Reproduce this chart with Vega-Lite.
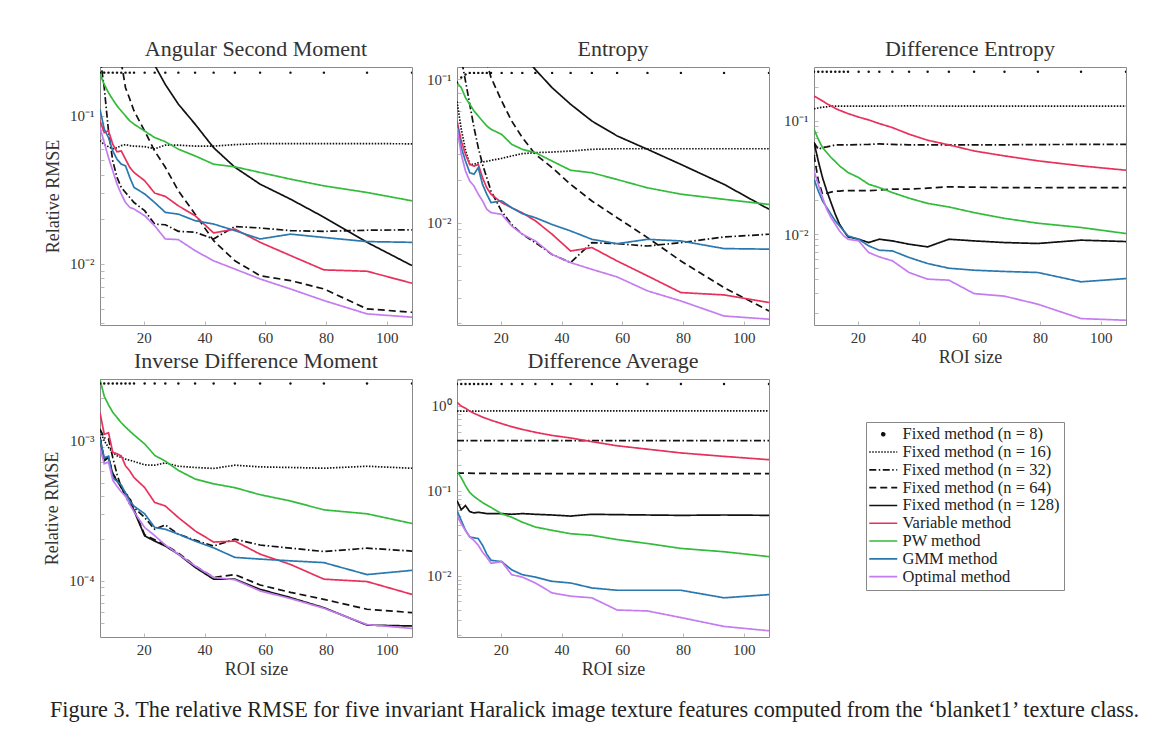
{
"$schema": "https://vega.github.io/schema/vega-lite/v6.json",
"background": "white",
"padding": {"left": 43, "top": 37, "right": 10, "bottom": 10},
"columns": 3,
"bounds": "flush",
"spacing": {"row": 54, "column": 45},
"title": {"text": "Figure 3.  The relative RMSE for five invariant Haralick image texture features computed from the ‘blanket1’ texture class.", "orient": "bottom", "anchor": "start", "frame": "group", "dx": -50, "offset": 20, "font": "Liberation Serif", "fontSize": 22.2, "fontWeight": "normal", "color": "#222"},
"datasets": {
"asm": [
{"m":"f8","x":5.6,"y":0.196},{"m":"f8","x":7,"y":0.196},{"m":"f8","x":8.4,"y":0.196},{"m":"f8","x":9.8,"y":0.196},{"m":"f8","x":11.2,"y":0.196},{"m":"f8","x":12.6,"y":0.196},{"m":"f8","x":14,"y":0.196},{"m":"f8","x":15.4,"y":0.196},{"m":"f8","x":16.8,"y":0.196},{"m":"f8","x":20.3,"y":0.196},{"m":"f8","x":23.6,"y":0.196},{"m":"f8","x":27.1,"y":0.196},{"m":"f8","x":31.4,"y":0.196},{"m":"f8","x":36.9,"y":0.196},{"m":"f8","x":43,"y":0.196},{"m":"f8","x":50,"y":0.196},{"m":"f8","x":58.3,"y":0.196},{"m":"f8","x":68.3,"y":0.196},{"m":"f8","x":79.3,"y":0.196},{"m":"f8","x":93.5,"y":0.196},{"m":"f8","x":108.3,"y":0.196},
{"m":"f16","x":5.6,"y":0.068},{"m":"f16","x":7,"y":0.064},{"m":"f16","x":8.4,"y":0.062},{"m":"f16","x":9.8,"y":0.06},{"m":"f16","x":11.2,"y":0.061},{"m":"f16","x":12.6,"y":0.063},{"m":"f16","x":14,"y":0.064},{"m":"f16","x":15.4,"y":0.063},{"m":"f16","x":16.8,"y":0.0625},{"m":"f16","x":20.3,"y":0.062},{"m":"f16","x":23.6,"y":0.06},{"m":"f16","x":27.1,"y":0.0635},{"m":"f16","x":31.4,"y":0.0635},{"m":"f16","x":36.9,"y":0.0625},{"m":"f16","x":43,"y":0.0625},{"m":"f16","x":50,"y":0.064},{"m":"f16","x":58.3,"y":0.065},{"m":"f16","x":68.3,"y":0.065},{"m":"f16","x":79.3,"y":0.065},{"m":"f16","x":93.5,"y":0.065},{"m":"f16","x":108.3,"y":0.0648},
{"m":"f32","x":5.6,"y":0.25},{"m":"f32","x":7,"y":0.155},{"m":"f32","x":8.4,"y":0.079},{"m":"f32","x":9.8,"y":0.0498},{"m":"f32","x":11.2,"y":0.0384},{"m":"f32","x":12.6,"y":0.0329},{"m":"f32","x":14,"y":0.0304},{"m":"f32","x":15.4,"y":0.0281},{"m":"f32","x":16.8,"y":0.026},{"m":"f32","x":20.3,"y":0.0229},{"m":"f32","x":23.6,"y":0.0186},{"m":"f32","x":27.1,"y":0.0184},{"m":"f32","x":31.4,"y":0.0166},{"m":"f32","x":36.9,"y":0.0164},{"m":"f32","x":43,"y":0.01475},{"m":"f32","x":50,"y":0.0179},{"m":"f32","x":58.3,"y":0.0175},{"m":"f32","x":68.3,"y":0.0168},{"m":"f32","x":79.3,"y":0.0166},{"m":"f32","x":93.5,"y":0.0169},{"m":"f32","x":108.3,"y":0.017},
{"m":"f64","x":12.6,"y":0.23},{"m":"f64","x":14,"y":0.155},{"m":"f64","x":15.4,"y":0.13},{"m":"f64","x":16.8,"y":0.108},{"m":"f64","x":20.3,"y":0.079},{"m":"f64","x":23.6,"y":0.058},{"m":"f64","x":27.1,"y":0.045},{"m":"f64","x":31.4,"y":0.0312},{"m":"f64","x":36.9,"y":0.0217},{"m":"f64","x":43,"y":0.01436},{"m":"f64","x":50,"y":0.0105},{"m":"f64","x":58.3,"y":0.00833},{"m":"f64","x":68.3,"y":0.00772},{"m":"f64","x":79.3,"y":0.00678},{"m":"f64","x":93.5,"y":0.00497},{"m":"f64","x":108.3,"y":0.00472},
{"m":"f128","x":20.3,"y":0.3},{"m":"f128","x":23.6,"y":0.22},{"m":"f128","x":27.1,"y":0.163},{"m":"f128","x":31.4,"y":0.12},{"m":"f128","x":36.9,"y":0.088},{"m":"f128","x":43,"y":0.061},{"m":"f128","x":50,"y":0.045},{"m":"f128","x":58.3,"y":0.0346},{"m":"f128","x":68.3,"y":0.0274},{"m":"f128","x":79.3,"y":0.0207},{"m":"f128","x":93.5,"y":0.014},{"m":"f128","x":108.3,"y":0.00975},
{"m":"var","x":5.6,"y":0.0926},{"m":"var","x":7,"y":0.0772},{"m":"var","x":8.4,"y":0.0793},{"m":"var","x":9.8,"y":0.0644},{"m":"var","x":11.2,"y":0.0572},{"m":"var","x":12.6,"y":0.058},{"m":"var","x":14,"y":0.051},{"m":"var","x":15.4,"y":0.0449},{"m":"var","x":16.8,"y":0.0415},{"m":"var","x":20.3,"y":0.0365},{"m":"var","x":23.6,"y":0.0301},{"m":"var","x":27.1,"y":0.0286},{"m":"var","x":31.4,"y":0.0247},{"m":"var","x":36.9,"y":0.0212},{"m":"var","x":43,"y":0.0162},{"m":"var","x":50,"y":0.0172},{"m":"var","x":58.3,"y":0.014},{"m":"var","x":68.3,"y":0.0114},{"m":"var","x":79.3,"y":0.00912},{"m":"var","x":93.5,"y":0.00893},{"m":"var","x":108.3,"y":0.00741},
{"m":"pw","x":5.6,"y":0.191},{"m":"pw","x":7,"y":0.163},{"m":"pw","x":8.4,"y":0.1435},{"m":"pw","x":9.8,"y":0.129},{"m":"pw","x":11.2,"y":0.117},{"m":"pw","x":12.6,"y":0.108},{"m":"pw","x":14,"y":0.1},{"m":"pw","x":15.4,"y":0.0926},{"m":"pw","x":16.8,"y":0.088},{"m":"pw","x":20.3,"y":0.079},{"m":"pw","x":23.6,"y":0.0714},{"m":"pw","x":27.1,"y":0.067},{"m":"pw","x":31.4,"y":0.0596},{"m":"pw","x":36.9,"y":0.0537},{"m":"pw","x":43,"y":0.0472},{"m":"pw","x":50,"y":0.0453},{"m":"pw","x":58.3,"y":0.0415},{"m":"pw","x":68.3,"y":0.0374},{"m":"pw","x":79.3,"y":0.0337},{"m":"pw","x":93.5,"y":0.0304},{"m":"pw","x":108.3,"y":0.0267},
{"m":"gmm","x":5.6,"y":0.111},{"m":"gmm","x":7,"y":0.0813},{"m":"gmm","x":8.4,"y":0.0714},{"m":"gmm","x":9.8,"y":0.058},{"m":"gmm","x":11.2,"y":0.051},{"m":"gmm","x":12.6,"y":0.0472},{"m":"gmm","x":14,"y":0.046},{"m":"gmm","x":15.4,"y":0.0384},{"m":"gmm","x":16.8,"y":0.0329},{"m":"gmm","x":20.3,"y":0.0297},{"m":"gmm","x":23.6,"y":0.026},{"m":"gmm","x":27.1,"y":0.0223},{"m":"gmm","x":31.4,"y":0.0217},{"m":"gmm","x":36.9,"y":0.0196},{"m":"gmm","x":43,"y":0.0186},{"m":"gmm","x":50,"y":0.0168},{"m":"gmm","x":58.3,"y":0.01475},{"m":"gmm","x":68.3,"y":0.0159},{"m":"gmm","x":79.3,"y":0.0151},{"m":"gmm","x":93.5,"y":0.01416},{"m":"gmm","x":108.3,"y":0.014},
{"m":"opt","x":5.6,"y":0.0834},{"m":"opt","x":7,"y":0.066},{"m":"opt","x":8.4,"y":0.0523},{"m":"opt","x":9.8,"y":0.0426},{"m":"opt","x":11.2,"y":0.0346},{"m":"opt","x":12.6,"y":0.0297},{"m":"opt","x":14,"y":0.026},{"m":"opt","x":15.4,"y":0.0241},{"m":"opt","x":16.8,"y":0.0235},{"m":"opt","x":20.3,"y":0.0212},{"m":"opt","x":23.6,"y":0.0181},{"m":"opt","x":27.1,"y":0.01475},{"m":"opt","x":31.4,"y":0.0146},{"m":"opt","x":36.9,"y":0.0123},{"m":"opt","x":43,"y":0.0105},{"m":"opt","x":50,"y":0.00924},{"m":"opt","x":58.3,"y":0.00792},{"m":"opt","x":68.3,"y":0.00678},{"m":"opt","x":79.3,"y":0.00566},{"m":"opt","x":93.5,"y":0.0046},{"m":"opt","x":108.3,"y":0.00437}
],
"ent": [
{"m":"f8","x":5.6,"y":0.095},{"m":"f8","x":7,"y":0.103},{"m":"f8","x":8.4,"y":0.108},{"m":"f8","x":9.8,"y":0.111},{"m":"f8","x":11.2,"y":0.111},{"m":"f8","x":12.6,"y":0.111},{"m":"f8","x":14,"y":0.111},{"m":"f8","x":15.4,"y":0.111},{"m":"f8","x":16.8,"y":0.111},{"m":"f8","x":20.3,"y":0.111},{"m":"f8","x":23.6,"y":0.111},{"m":"f8","x":27.1,"y":0.111},{"m":"f8","x":31.4,"y":0.111},{"m":"f8","x":36.9,"y":0.111},{"m":"f8","x":43,"y":0.111},{"m":"f8","x":50,"y":0.111},{"m":"f8","x":58.3,"y":0.111},{"m":"f8","x":68.3,"y":0.111},{"m":"f8","x":79.3,"y":0.111},{"m":"f8","x":93.5,"y":0.111},{"m":"f8","x":108.3,"y":0.111},
{"m":"f16","x":5.6,"y":0.07},{"m":"f16","x":7,"y":0.045},{"m":"f16","x":8.4,"y":0.032},{"m":"f16","x":9.8,"y":0.0255},{"m":"f16","x":11.2,"y":0.0255},{"m":"f16","x":12.6,"y":0.0262},{"m":"f16","x":14,"y":0.0265},{"m":"f16","x":15.4,"y":0.0268},{"m":"f16","x":16.8,"y":0.0272},{"m":"f16","x":20.3,"y":0.0281},{"m":"f16","x":23.6,"y":0.0292},{"m":"f16","x":27.1,"y":0.0303},{"m":"f16","x":31.4,"y":0.0308},{"m":"f16","x":36.9,"y":0.0311},{"m":"f16","x":43,"y":0.0316},{"m":"f16","x":50,"y":0.0325},{"m":"f16","x":58.3,"y":0.0328},{"m":"f16","x":68.3,"y":0.0328},{"m":"f16","x":79.3,"y":0.0328},{"m":"f16","x":93.5,"y":0.0328},{"m":"f16","x":108.3,"y":0.0328},
{"m":"f32","x":5.6,"y":0.25},{"m":"f32","x":7,"y":0.14},{"m":"f32","x":8.4,"y":0.0973},{"m":"f32","x":9.8,"y":0.067},{"m":"f32","x":11.2,"y":0.046},{"m":"f32","x":12.6,"y":0.0334},{"m":"f32","x":14,"y":0.0255},{"m":"f32","x":15.4,"y":0.0206},{"m":"f32","x":16.8,"y":0.0166},{"m":"f32","x":20.3,"y":0.012},{"m":"f32","x":23.6,"y":0.0097},{"m":"f32","x":27.1,"y":0.0083},{"m":"f32","x":31.4,"y":0.00725},{"m":"f32","x":36.9,"y":0.006},{"m":"f32","x":43,"y":0.00526},{"m":"f32","x":50,"y":0.00725},{"m":"f32","x":58.3,"y":0.00713},{"m":"f32","x":68.3,"y":0.00687},{"m":"f32","x":79.3,"y":0.00725},{"m":"f32","x":93.5,"y":0.00794},{"m":"f32","x":108.3,"y":0.0083},
{"m":"f64","x":14,"y":0.16},{"m":"f64","x":15.4,"y":0.13},{"m":"f64","x":16.8,"y":0.103},{"m":"f64","x":20.3,"y":0.0706},{"m":"f64","x":23.6,"y":0.0512},{"m":"f64","x":27.1,"y":0.0392},{"m":"f64","x":31.4,"y":0.03},{"m":"f64","x":36.9,"y":0.0242},{"m":"f64","x":43,"y":0.0185},{"m":"f64","x":50,"y":0.01416},{"m":"f64","x":58.3,"y":0.01083},{"m":"f64","x":68.3,"y":0.00786},{"m":"f64","x":79.3,"y":0.0054},{"m":"f64","x":93.5,"y":0.00352},{"m":"f64","x":108.3,"y":0.00242},
{"m":"f128","x":27.1,"y":0.15},{"m":"f128","x":31.4,"y":0.117},{"m":"f128","x":36.9,"y":0.0875},{"m":"f128","x":43,"y":0.067},{"m":"f128","x":50,"y":0.0512},{"m":"f128","x":58.3,"y":0.0403},{"m":"f128","x":68.3,"y":0.0325},{"m":"f128","x":79.3,"y":0.0255},{"m":"f128","x":93.5,"y":0.0185},{"m":"f128","x":108.3,"y":0.0124},
{"m":"var","x":5.6,"y":0.0512},{"m":"var","x":7,"y":0.0371},{"m":"var","x":8.4,"y":0.03},{"m":"var","x":9.8,"y":0.0255},{"m":"var","x":11.2,"y":0.0248},{"m":"var","x":12.6,"y":0.0255},{"m":"var","x":14,"y":0.0206},{"m":"var","x":15.4,"y":0.0175},{"m":"var","x":16.8,"y":0.0158},{"m":"var","x":20.3,"y":0.0138},{"m":"var","x":23.6,"y":0.0127},{"m":"var","x":27.1,"y":0.0117},{"m":"var","x":31.4,"y":0.0103},{"m":"var","x":36.9,"y":0.0083},{"m":"var","x":43,"y":0.00634},{"m":"var","x":50,"y":0.0067},{"m":"var","x":58.3,"y":0.0054},{"m":"var","x":68.3,"y":0.00425},{"m":"var","x":79.3,"y":0.00325},{"m":"var","x":93.5,"y":0.00313},{"m":"var","x":108.3,"y":0.00277},
{"m":"pw","x":5.6,"y":0.0948},{"m":"pw","x":7,"y":0.0875},{"m":"pw","x":8.4,"y":0.0745},{"m":"pw","x":9.8,"y":0.067},{"m":"pw","x":11.2,"y":0.0602},{"m":"pw","x":12.6,"y":0.0555},{"m":"pw","x":14,"y":0.0512},{"m":"pw","x":15.4,"y":0.0473},{"m":"pw","x":16.8,"y":0.0448},{"m":"pw","x":20.3,"y":0.0413},{"m":"pw","x":23.6,"y":0.0352},{"m":"pw","x":27.1,"y":0.0325},{"m":"pw","x":31.4,"y":0.0308},{"m":"pw","x":36.9,"y":0.0269},{"m":"pw","x":43,"y":0.0232},{"m":"pw","x":50,"y":0.0223},{"m":"pw","x":58.3,"y":0.02},{"m":"pw","x":68.3,"y":0.0175},{"m":"pw","x":79.3,"y":0.0158},{"m":"pw","x":93.5,"y":0.01455},{"m":"pw","x":108.3,"y":0.0134},
{"m":"gmm","x":5.6,"y":0.0485},{"m":"gmm","x":7,"y":0.0334},{"m":"gmm","x":8.4,"y":0.0269},{"m":"gmm","x":9.8,"y":0.0223},{"m":"gmm","x":11.2,"y":0.0218},{"m":"gmm","x":12.6,"y":0.0242},{"m":"gmm","x":14,"y":0.0185},{"m":"gmm","x":15.4,"y":0.0158},{"m":"gmm","x":16.8,"y":0.0138},{"m":"gmm","x":20.3,"y":0.0142},{"m":"gmm","x":23.6,"y":0.0127},{"m":"gmm","x":27.1,"y":0.01155},{"m":"gmm","x":31.4,"y":0.01083},{"m":"gmm","x":36.9,"y":0.0097},{"m":"gmm","x":43,"y":0.00875},{"m":"gmm","x":50,"y":0.00765},{"m":"gmm","x":58.3,"y":0.00713},{"m":"gmm","x":68.3,"y":0.00765},{"m":"gmm","x":79.3,"y":0.00745},{"m":"gmm","x":93.5,"y":0.00659},{"m":"gmm","x":108.3,"y":0.00653},
{"m":"opt","x":5.6,"y":0.046},{"m":"opt","x":7,"y":0.03},{"m":"opt","x":8.4,"y":0.0229},{"m":"opt","x":9.8,"y":0.0195},{"m":"opt","x":11.2,"y":0.018},{"m":"opt","x":12.6,"y":0.0158},{"m":"opt","x":14,"y":0.0142},{"m":"opt","x":15.4,"y":0.0124},{"m":"opt","x":16.8,"y":0.01175},{"m":"opt","x":20.3,"y":0.01143},{"m":"opt","x":23.6,"y":0.00948},{"m":"opt","x":27.1,"y":0.0083},{"m":"opt","x":31.4,"y":0.00745},{"m":"opt","x":36.9,"y":0.006},{"m":"opt","x":43,"y":0.00526},{"m":"opt","x":50,"y":0.00472},{"m":"opt","x":58.3,"y":0.00418},{"m":"opt","x":68.3,"y":0.00334},{"m":"opt","x":79.3,"y":0.00284},{"m":"opt","x":93.5,"y":0.00223},{"m":"opt","x":108.3,"y":0.00212}
],
"den": [
{"m":"f8","x":5.6,"y":0.272},{"m":"f8","x":7,"y":0.272},{"m":"f8","x":8.4,"y":0.272},{"m":"f8","x":9.8,"y":0.272},{"m":"f8","x":11.2,"y":0.272},{"m":"f8","x":12.6,"y":0.272},{"m":"f8","x":14,"y":0.272},{"m":"f8","x":15.4,"y":0.272},{"m":"f8","x":16.8,"y":0.272},{"m":"f8","x":20.3,"y":0.272},{"m":"f8","x":23.6,"y":0.272},{"m":"f8","x":27.1,"y":0.272},{"m":"f8","x":31.4,"y":0.272},{"m":"f8","x":36.9,"y":0.272},{"m":"f8","x":43,"y":0.272},{"m":"f8","x":50,"y":0.272},{"m":"f8","x":58.3,"y":0.272},{"m":"f8","x":68.3,"y":0.272},{"m":"f8","x":79.3,"y":0.272},{"m":"f8","x":93.5,"y":0.272},{"m":"f8","x":108.3,"y":0.272},
{"m":"f16","x":5.6,"y":0.128},{"m":"f16","x":7,"y":0.13},{"m":"f16","x":8.4,"y":0.132},{"m":"f16","x":9.8,"y":0.133},{"m":"f16","x":11.2,"y":0.135},{"m":"f16","x":20.3,"y":0.135},{"m":"f16","x":36.9,"y":0.1355},{"m":"f16","x":58.3,"y":0.135},{"m":"f16","x":79.3,"y":0.135},{"m":"f16","x":108.3,"y":0.135},
{"m":"f32","x":5.6,"y":0.0644},{"m":"f32","x":7,"y":0.0562},{"m":"f32","x":8.4,"y":0.0582},{"m":"f32","x":9.8,"y":0.0589},{"m":"f32","x":11.2,"y":0.06},{"m":"f32","x":12.6,"y":0.0614},{"m":"f32","x":14,"y":0.0614},{"m":"f32","x":15.4,"y":0.0614},{"m":"f32","x":16.8,"y":0.0614},{"m":"f32","x":20.3,"y":0.0618},{"m":"f32","x":23.6,"y":0.062},{"m":"f32","x":27.1,"y":0.0627},{"m":"f32","x":31.4,"y":0.062},{"m":"f32","x":36.9,"y":0.0615},{"m":"f32","x":43,"y":0.0615},{"m":"f32","x":50,"y":0.0615},{"m":"f32","x":58.3,"y":0.0615},{"m":"f32","x":68.3,"y":0.0615},{"m":"f32","x":79.3,"y":0.0618},{"m":"f32","x":93.5,"y":0.062},{"m":"f32","x":108.3,"y":0.062},
{"m":"f64","x":5.6,"y":0.05},{"m":"f64","x":7,"y":0.03},{"m":"f64","x":8.4,"y":0.0225},{"m":"f64","x":9.8,"y":0.023},{"m":"f64","x":11.2,"y":0.0235},{"m":"f64","x":12.6,"y":0.024},{"m":"f64","x":14,"y":0.024},{"m":"f64","x":15.4,"y":0.0242},{"m":"f64","x":16.8,"y":0.0242},{"m":"f64","x":20.3,"y":0.0242},{"m":"f64","x":23.6,"y":0.0242},{"m":"f64","x":27.1,"y":0.0245},{"m":"f64","x":31.4,"y":0.025},{"m":"f64","x":36.9,"y":0.025},{"m":"f64","x":43,"y":0.0255},{"m":"f64","x":50,"y":0.0262},{"m":"f64","x":58.3,"y":0.026},{"m":"f64","x":68.3,"y":0.0258},{"m":"f64","x":79.3,"y":0.0257},{"m":"f64","x":93.5,"y":0.0258},{"m":"f64","x":108.3,"y":0.0258},
{"m":"f128","x":5.6,"y":0.0644},{"m":"f128","x":7,"y":0.0444},{"m":"f128","x":8.4,"y":0.0316},{"m":"f128","x":9.8,"y":0.0241},{"m":"f128","x":11.2,"y":0.019},{"m":"f128","x":12.6,"y":0.015},{"m":"f128","x":14,"y":0.01226},{"m":"f128","x":15.4,"y":0.0107},{"m":"f128","x":16.8,"y":0.00947},{"m":"f128","x":20.3,"y":0.00903},{"m":"f128","x":23.6,"y":0.00844},{"m":"f128","x":27.1,"y":0.00903},{"m":"f128","x":31.4,"y":0.00873},{"m":"f128","x":36.9,"y":0.00816},{"m":"f128","x":43,"y":0.00773},{"m":"f128","x":50,"y":0.00903},{"m":"f128","x":58.3,"y":0.00873},{"m":"f128","x":68.3,"y":0.00844},{"m":"f128","x":79.3,"y":0.00828},{"m":"f128","x":93.5,"y":0.00886},{"m":"f128","x":108.3,"y":0.00861},
{"m":"var","x":5.6,"y":0.166},{"m":"var","x":7,"y":0.158},{"m":"var","x":8.4,"y":0.15},{"m":"var","x":9.8,"y":0.142},{"m":"var","x":11.2,"y":0.1355},{"m":"var","x":12.6,"y":0.129},{"m":"var","x":14,"y":0.124},{"m":"var","x":15.4,"y":0.12},{"m":"var","x":16.8,"y":0.116},{"m":"var","x":20.3,"y":0.108},{"m":"var","x":23.6,"y":0.102},{"m":"var","x":27.1,"y":0.0947},{"m":"var","x":31.4,"y":0.0873},{"m":"var","x":36.9,"y":0.0763},{"m":"var","x":43,"y":0.0675},{"m":"var","x":50,"y":0.0614},{"m":"var","x":58.3,"y":0.0543},{"m":"var","x":68.3,"y":0.0491},{"m":"var","x":79.3,"y":0.0444},{"m":"var","x":93.5,"y":0.0401},{"m":"var","x":108.3,"y":0.0367},
{"m":"pw","x":5.6,"y":0.0844},{"m":"pw","x":7,"y":0.069},{"m":"pw","x":8.4,"y":0.0582},{"m":"pw","x":9.8,"y":0.0526},{"m":"pw","x":11.2,"y":0.0475},{"m":"pw","x":12.6,"y":0.0438},{"m":"pw","x":14,"y":0.0401},{"m":"pw","x":15.4,"y":0.0375},{"m":"pw","x":16.8,"y":0.035},{"m":"pw","x":20.3,"y":0.0316},{"m":"pw","x":23.6,"y":0.0276},{"m":"pw","x":27.1,"y":0.0258},{"m":"pw","x":31.4,"y":0.0233},{"m":"pw","x":36.9,"y":0.0208},{"m":"pw","x":43,"y":0.0187},{"m":"pw","x":50,"y":0.0174},{"m":"pw","x":58.3,"y":0.0155},{"m":"pw","x":68.3,"y":0.0138},{"m":"pw","x":79.3,"y":0.0125},{"m":"pw","x":93.5,"y":0.01146},{"m":"pw","x":108.3,"y":0.01014},
{"m":"gmm","x":5.6,"y":0.0306},{"m":"gmm","x":7,"y":0.0241},{"m":"gmm","x":8.4,"y":0.0197},{"m":"gmm","x":9.8,"y":0.0172},{"m":"gmm","x":11.2,"y":0.015},{"m":"gmm","x":12.6,"y":0.0131},{"m":"gmm","x":14,"y":0.01185},{"m":"gmm","x":15.4,"y":0.0107},{"m":"gmm","x":16.8,"y":0.00966},{"m":"gmm","x":20.3,"y":0.00903},{"m":"gmm","x":23.6,"y":0.00789},{"m":"gmm","x":27.1,"y":0.00722},{"m":"gmm","x":31.4,"y":0.00712},{"m":"gmm","x":36.9,"y":0.00623},{"m":"gmm","x":43,"y":0.00551},{"m":"gmm","x":50,"y":0.00501},{"m":"gmm","x":58.3,"y":0.00481},{"m":"gmm","x":68.3,"y":0.00469},{"m":"gmm","x":79.3,"y":0.00459},{"m":"gmm","x":93.5,"y":0.0038},{"m":"gmm","x":108.3,"y":0.00406},
{"m":"opt","x":5.6,"y":0.0362},{"m":"opt","x":7,"y":0.0276},{"m":"opt","x":8.4,"y":0.0211},{"m":"opt","x":9.8,"y":0.0166},{"m":"opt","x":11.2,"y":0.014},{"m":"opt","x":12.6,"y":0.01226},{"m":"opt","x":14,"y":0.0107},{"m":"opt","x":15.4,"y":0.00966},{"m":"opt","x":16.8,"y":0.00903},{"m":"opt","x":20.3,"y":0.00873},{"m":"opt","x":23.6,"y":0.00689},{"m":"opt","x":27.1,"y":0.00631},{"m":"opt","x":31.4,"y":0.00582},{"m":"opt","x":36.9,"y":0.00459},{"m":"opt","x":43,"y":0.00401},{"m":"opt","x":50,"y":0.00393},{"m":"opt","x":58.3,"y":0.00299},{"m":"opt","x":68.3,"y":0.00284},{"m":"opt","x":79.3,"y":0.00241},{"m":"opt","x":93.5,"y":0.0018},{"m":"opt","x":108.3,"y":0.00174}
],
"idm": [
{"m":"f8","x":5.6,"y":0.00253},{"m":"f8","x":7,"y":0.00253},{"m":"f8","x":8.4,"y":0.00253},{"m":"f8","x":9.8,"y":0.00253},{"m":"f8","x":11.2,"y":0.00253},{"m":"f8","x":12.6,"y":0.00253},{"m":"f8","x":14,"y":0.00253},{"m":"f8","x":15.4,"y":0.00253},{"m":"f8","x":16.8,"y":0.00253},{"m":"f8","x":20.3,"y":0.00253},{"m":"f8","x":23.6,"y":0.00253},{"m":"f8","x":27.1,"y":0.00253},{"m":"f8","x":31.4,"y":0.00253},{"m":"f8","x":36.9,"y":0.00253},{"m":"f8","x":43,"y":0.00253},{"m":"f8","x":50,"y":0.00253},{"m":"f8","x":58.3,"y":0.00253},{"m":"f8","x":68.3,"y":0.00253},{"m":"f8","x":79.3,"y":0.00253},{"m":"f8","x":93.5,"y":0.00253},{"m":"f8","x":108.3,"y":0.00253},
{"m":"f16","x":5.6,"y":0.00116},{"m":"f16","x":7,"y":0.00099},{"m":"f16","x":8.4,"y":0.000887},{"m":"f16","x":9.8,"y":0.000817},{"m":"f16","x":11.2,"y":0.000774},{"m":"f16","x":12.6,"y":0.000753},{"m":"f16","x":14,"y":0.000733},{"m":"f16","x":15.4,"y":0.000721},{"m":"f16","x":16.8,"y":0.000706},{"m":"f16","x":20.3,"y":0.000668},{"m":"f16","x":23.6,"y":0.000664},{"m":"f16","x":27.1,"y":0.00069},{"m":"f16","x":31.4,"y":0.000653},{"m":"f16","x":36.9,"y":0.00064},{"m":"f16","x":43,"y":0.00063},{"m":"f16","x":50,"y":0.000664},{"m":"f16","x":58.3,"y":0.000646},{"m":"f16","x":68.3,"y":0.00064},{"m":"f16","x":79.3,"y":0.000632},{"m":"f16","x":93.5,"y":0.000653},{"m":"f16","x":108.3,"y":0.000632},
{"m":"f32","x":5.6,"y":0.0012},{"m":"f32","x":7,"y":0.00104},{"m":"f32","x":8.4,"y":0.00102},{"m":"f32","x":9.8,"y":0.000753},{"m":"f32","x":11.2,"y":0.000573},{"m":"f32","x":12.6,"y":0.000461},{"m":"f32","x":14,"y":0.000402},{"m":"f32","x":15.4,"y":0.000351},{"m":"f32","x":16.8,"y":0.000332},{"m":"f32","x":20.3,"y":0.000282},{"m":"f32","x":23.6,"y":0.000233},{"m":"f32","x":27.1,"y":0.00025},{"m":"f32","x":31.4,"y":0.000215},{"m":"f32","x":36.9,"y":0.000195},{"m":"f32","x":43,"y":0.000177},{"m":"f32","x":50,"y":0.000198},{"m":"f32","x":58.3,"y":0.00018},{"m":"f32","x":68.3,"y":0.000171},{"m":"f32","x":79.3,"y":0.000162},{"m":"f32","x":93.5,"y":0.000171},{"m":"f32","x":108.3,"y":0.000163},
{"m":"f64","x":5.6,"y":0.00105},{"m":"f64","x":7,"y":0.00072},{"m":"f64","x":8.4,"y":0.00076},{"m":"f64","x":9.8,"y":0.00058},{"m":"f64","x":11.2,"y":0.00052},{"m":"f64","x":12.6,"y":0.00047},{"m":"f64","x":14,"y":0.00042},{"m":"f64","x":15.4,"y":0.00039},{"m":"f64","x":16.8,"y":0.00032},{"m":"f64","x":20.3,"y":0.000213},{"m":"f64","x":23.6,"y":0.000196},{"m":"f64","x":27.1,"y":0.00018},{"m":"f64","x":31.4,"y":0.000158},{"m":"f64","x":36.9,"y":0.000128},{"m":"f64","x":43,"y":0.000106},{"m":"f64","x":50,"y":0.000111},{"m":"f64","x":58.3,"y":0.0000937},{"m":"f64","x":68.3,"y":0.000083},{"m":"f64","x":79.3,"y":0.000074},{"m":"f64","x":93.5,"y":0.000063},{"m":"f64","x":108.3,"y":0.0000596},
{"m":"f128","x":5.6,"y":0.00104},{"m":"f128","x":7,"y":0.000713},{"m":"f128","x":8.4,"y":0.000753},{"m":"f128","x":9.8,"y":0.000573},{"m":"f128","x":11.2,"y":0.000514},{"m":"f128","x":12.6,"y":0.000461},{"m":"f128","x":14,"y":0.000413},{"m":"f128","x":15.4,"y":0.000381},{"m":"f128","x":16.8,"y":0.000315},{"m":"f128","x":20.3,"y":0.000209},{"m":"f128","x":23.6,"y":0.000192},{"m":"f128","x":27.1,"y":0.000177},{"m":"f128","x":31.4,"y":0.000155},{"m":"f128","x":36.9,"y":0.000125},{"m":"f128","x":43,"y":0.000103},{"m":"f128","x":50,"y":0.000103},{"m":"f128","x":58.3,"y":0.0000872},{"m":"f128","x":68.3,"y":0.0000762},{"m":"f128","x":79.3,"y":0.0000646},{"m":"f128","x":93.5,"y":0.0000486},{"m":"f128","x":108.3,"y":0.0000479},
{"m":"var","x":5.6,"y":0.00157},{"m":"var","x":7,"y":0.0011},{"m":"var","x":8.4,"y":0.00113},{"m":"var","x":9.8,"y":0.00082},{"m":"var","x":11.2,"y":0.0008},{"m":"var","x":12.6,"y":0.000774},{"m":"var","x":14,"y":0.000657},{"m":"var","x":15.4,"y":0.000605},{"m":"var","x":16.8,"y":0.000543},{"m":"var","x":20.3,"y":0.000461},{"m":"var","x":23.6,"y":0.000361},{"m":"var","x":27.1,"y":0.000341},{"m":"var","x":31.4,"y":0.000282},{"m":"var","x":36.9,"y":0.000227},{"m":"var","x":43,"y":0.000189},{"m":"var","x":50,"y":0.000192},{"m":"var","x":58.3,"y":0.000155},{"m":"var","x":68.3,"y":0.000131},{"m":"var","x":79.3,"y":0.000103},{"m":"var","x":93.5,"y":0.000099},{"m":"var","x":108.3,"y":0.0000803},
{"m":"pw","x":5.6,"y":0.0027},{"m":"pw","x":7,"y":0.00205},{"m":"pw","x":8.4,"y":0.00178},{"m":"pw","x":9.8,"y":0.00158},{"m":"pw","x":11.2,"y":0.00145},{"m":"pw","x":12.6,"y":0.00133},{"m":"pw","x":14,"y":0.00124},{"m":"pw","x":15.4,"y":0.00116},{"m":"pw","x":16.8,"y":0.00109},{"m":"pw","x":20.3,"y":0.00094},{"m":"pw","x":23.6,"y":0.00078},{"m":"pw","x":27.1,"y":0.00071},{"m":"pw","x":31.4,"y":0.00061},{"m":"pw","x":36.9,"y":0.00053},{"m":"pw","x":43,"y":0.00049},{"m":"pw","x":50,"y":0.00046},{"m":"pw","x":58.3,"y":0.00041},{"m":"pw","x":68.3,"y":0.00037},{"m":"pw","x":79.3,"y":0.00032},{"m":"pw","x":93.5,"y":0.0003},{"m":"pw","x":108.3,"y":0.000256},
{"m":"gmm","x":5.6,"y":0.00102},{"m":"gmm","x":7,"y":0.00075},{"m":"gmm","x":8.4,"y":0.00077},{"m":"gmm","x":9.8,"y":0.00054},{"m":"gmm","x":11.2,"y":0.00051},{"m":"gmm","x":12.6,"y":0.00048},{"m":"gmm","x":14,"y":0.00042},{"m":"gmm","x":15.4,"y":0.00037},{"m":"gmm","x":16.8,"y":0.00034},{"m":"gmm","x":20.3,"y":0.0003},{"m":"gmm","x":23.6,"y":0.00024},{"m":"gmm","x":27.1,"y":0.000233},{"m":"gmm","x":31.4,"y":0.000215},{"m":"gmm","x":36.9,"y":0.000192},{"m":"gmm","x":43,"y":0.000172},{"m":"gmm","x":50,"y":0.000147},{"m":"gmm","x":58.3,"y":0.000143},{"m":"gmm","x":68.3,"y":0.000139},{"m":"gmm","x":79.3,"y":0.000135},{"m":"gmm","x":93.5,"y":0.000111},{"m":"gmm","x":108.3,"y":0.000119},
{"m":"opt","x":5.6,"y":0.00088},{"m":"opt","x":7,"y":0.00068},{"m":"opt","x":8.4,"y":0.0007},{"m":"opt","x":9.8,"y":0.00052},{"m":"opt","x":11.2,"y":0.00047},{"m":"opt","x":12.6,"y":0.00043},{"m":"opt","x":14,"y":0.0004},{"m":"opt","x":15.4,"y":0.00035},{"m":"opt","x":16.8,"y":0.00031},{"m":"opt","x":20.3,"y":0.00024},{"m":"opt","x":23.6,"y":0.00021},{"m":"opt","x":27.1,"y":0.00018},{"m":"opt","x":31.4,"y":0.000155},{"m":"opt","x":36.9,"y":0.000128},{"m":"opt","x":43,"y":0.000106},{"m":"opt","x":50,"y":0.000102},{"m":"opt","x":58.3,"y":0.000085},{"m":"opt","x":68.3,"y":0.000075},{"m":"opt","x":79.3,"y":0.000064},{"m":"opt","x":93.5,"y":0.000049},{"m":"opt","x":108.3,"y":0.000046}
],
"dav": [
{"m":"f8","x":5.6,"y":1.82},{"m":"f8","x":7,"y":1.82},{"m":"f8","x":8.4,"y":1.82},{"m":"f8","x":9.8,"y":1.82},{"m":"f8","x":11.2,"y":1.82},{"m":"f8","x":12.6,"y":1.82},{"m":"f8","x":14,"y":1.82},{"m":"f8","x":15.4,"y":1.82},{"m":"f8","x":16.8,"y":1.82},{"m":"f8","x":20.3,"y":1.82},{"m":"f8","x":23.6,"y":1.82},{"m":"f8","x":27.1,"y":1.82},{"m":"f8","x":31.4,"y":1.82},{"m":"f8","x":36.9,"y":1.82},{"m":"f8","x":43,"y":1.82},{"m":"f8","x":50,"y":1.82},{"m":"f8","x":58.3,"y":1.82},{"m":"f8","x":68.3,"y":1.82},{"m":"f8","x":79.3,"y":1.82},{"m":"f8","x":93.5,"y":1.82},{"m":"f8","x":108.3,"y":1.82},
{"m":"f16","x":5.6,"y":0.87},{"m":"f16","x":20.3,"y":0.875},{"m":"f16","x":50,"y":0.875},{"m":"f16","x":108.3,"y":0.875},
{"m":"f32","x":5.6,"y":0.39},{"m":"f32","x":20.3,"y":0.392},{"m":"f32","x":50,"y":0.392},{"m":"f32","x":108.3,"y":0.392},
{"m":"f64","x":5.6,"y":0.162},{"m":"f64","x":20.3,"y":0.16},{"m":"f64","x":50,"y":0.16},{"m":"f64","x":108.3,"y":0.16},
{"m":"f128","x":5.6,"y":0.0765},{"m":"f128","x":7,"y":0.06},{"m":"f128","x":8.4,"y":0.067},{"m":"f128","x":9.8,"y":0.057},{"m":"f128","x":11.2,"y":0.055},{"m":"f128","x":12.6,"y":0.056},{"m":"f128","x":14,"y":0.055},{"m":"f128","x":15.4,"y":0.054},{"m":"f128","x":16.8,"y":0.054},{"m":"f128","x":20.3,"y":0.054},{"m":"f128","x":23.6,"y":0.053},{"m":"f128","x":27.1,"y":0.054},{"m":"f128","x":31.4,"y":0.053},{"m":"f128","x":36.9,"y":0.052},{"m":"f128","x":43,"y":0.0505},{"m":"f128","x":50,"y":0.053},{"m":"f128","x":58.3,"y":0.0525},{"m":"f128","x":68.3,"y":0.052},{"m":"f128","x":79.3,"y":0.0515},{"m":"f128","x":93.5,"y":0.052},{"m":"f128","x":108.3,"y":0.0515},
{"m":"var","x":5.6,"y":1.1},{"m":"var","x":7,"y":1.0},{"m":"var","x":8.4,"y":0.94},{"m":"var","x":9.8,"y":0.87},{"m":"var","x":11.2,"y":0.82},{"m":"var","x":12.6,"y":0.78},{"m":"var","x":14,"y":0.74},{"m":"var","x":15.4,"y":0.71},{"m":"var","x":16.8,"y":0.68},{"m":"var","x":20.3,"y":0.62},{"m":"var","x":23.6,"y":0.57},{"m":"var","x":27.1,"y":0.53},{"m":"var","x":31.4,"y":0.49},{"m":"var","x":36.9,"y":0.45},{"m":"var","x":43,"y":0.42},{"m":"var","x":50,"y":0.38},{"m":"var","x":58.3,"y":0.34},{"m":"var","x":68.3,"y":0.31},{"m":"var","x":79.3,"y":0.28},{"m":"var","x":93.5,"y":0.255},{"m":"var","x":108.3,"y":0.233},
{"m":"pw","x":5.6,"y":0.171},{"m":"pw","x":7,"y":0.143},{"m":"pw","x":8.4,"y":0.115},{"m":"pw","x":9.8,"y":0.0957},{"m":"pw","x":11.2,"y":0.086},{"m":"pw","x":12.6,"y":0.079},{"m":"pw","x":14,"y":0.073},{"m":"pw","x":15.4,"y":0.068},{"m":"pw","x":16.8,"y":0.064},{"m":"pw","x":20.3,"y":0.0536},{"m":"pw","x":23.6,"y":0.049},{"m":"pw","x":27.1,"y":0.0428},{"m":"pw","x":31.4,"y":0.0375},{"m":"pw","x":36.9,"y":0.0343},{"m":"pw","x":43,"y":0.0313},{"m":"pw","x":50,"y":0.03},{"m":"pw","x":58.3,"y":0.0267},{"m":"pw","x":68.3,"y":0.024},{"m":"pw","x":79.3,"y":0.021},{"m":"pw","x":93.5,"y":0.0192},{"m":"pw","x":108.3,"y":0.0168},
{"m":"gmm","x":5.6,"y":0.0585},{"m":"gmm","x":7,"y":0.0448},{"m":"gmm","x":8.4,"y":0.0343},{"m":"gmm","x":9.8,"y":0.0287},{"m":"gmm","x":11.2,"y":0.028},{"m":"gmm","x":12.6,"y":0.0274},{"m":"gmm","x":14,"y":0.0229},{"m":"gmm","x":15.4,"y":0.018},{"m":"gmm","x":16.8,"y":0.0152},{"m":"gmm","x":20.3,"y":0.0147},{"m":"gmm","x":23.6,"y":0.01175},{"m":"gmm","x":27.1,"y":0.0103},{"m":"gmm","x":31.4,"y":0.00965},{"m":"gmm","x":36.9,"y":0.0086},{"m":"gmm","x":43,"y":0.00822},{"m":"gmm","x":50,"y":0.00719},{"m":"gmm","x":58.3,"y":0.00675},{"m":"gmm","x":68.3,"y":0.00675},{"m":"gmm","x":79.3,"y":0.00675},{"m":"gmm","x":93.5,"y":0.0055},{"m":"gmm","x":108.3,"y":0.006},
{"m":"opt","x":5.6,"y":0.0512},{"m":"opt","x":7,"y":0.041},{"m":"opt","x":8.4,"y":0.034},{"m":"opt","x":9.8,"y":0.0287},{"m":"opt","x":11.2,"y":0.026},{"m":"opt","x":12.6,"y":0.0229},{"m":"opt","x":14,"y":0.019},{"m":"opt","x":15.4,"y":0.0165},{"m":"opt","x":16.8,"y":0.014},{"m":"opt","x":20.3,"y":0.0147},{"m":"opt","x":23.6,"y":0.0103},{"m":"opt","x":27.1,"y":0.00965},{"m":"opt","x":31.4,"y":0.00822},{"m":"opt","x":36.9,"y":0.00628},{"m":"opt","x":43,"y":0.00575},{"m":"opt","x":50,"y":0.0055},{"m":"opt","x":58.3,"y":0.00395},{"m":"opt","x":68.3,"y":0.00385},{"m":"opt","x":79.3,"y":0.00322},{"m":"opt","x":93.5,"y":0.00253},{"m":"opt","x":108.3,"y":0.00225}
]
},
"concat": [
{
"title": "Angular Second Moment", "width": 312, "height": 258, "data": {"name": "asm"},
"encoding": {
"x": {"field": "x", "type": "quantitative", "scale": {"domain": [5.6, 108.3], "nice": false, "zero": false}, "axis": {"values": [20,40,60,80,100], "title": null}},
"y": {"field": "y", "type": "quantitative", "scale": {"type": "log", "domain": [0.00387, 0.214], "nice": false}, "axis": {"values": [0.004,0.005,0.006,0.007,0.008,0.009,0.01,0.02,0.03,0.04,0.05,0.06,0.07,0.08,0.09,0.1,0.2], "title": "Relative RMSE", "labelExpr": "datum.value == 1 ? '10⁰' : datum.value == 0.1 ? '10⁻¹' : datum.value == 0.01 ? '10⁻²' : datum.value == 0.001 ? '10⁻³' : datum.value == 0.0001 ? '10⁻⁴' : ''"}},
"color": {"field": "m", "type": "nominal", "scale": {"domain": ["f8","f16","f32","f64","f128","var","pw","gmm","opt"], "range": ["#111111","#111111","#111111","#111111","#111111","#e8305c","#33bb3c","#2a78b0","#c47cf0"]},
 "legend": {"orient": "none", "legendX": 766, "legendY": 355, "title": null, "labelFont": "Liberation Serif", "labelFontSize": 16.5, "labelColor": "#222", "symbolType": "M-3,0H6.33", "symbolSize": 36, "symbolStrokeWidth": 1.6, "labelOffset": 16, "rowPadding": 0.8, "padding": 4, "strokeColor": "#888", "fillColor": "white",
  "labelExpr": "datum.value == 'f8' ? 'Fixed method (n = 8)' : datum.value == 'f16' ? 'Fixed method (n = 16)' : datum.value == 'f32' ? 'Fixed method (n = 32)' : datum.value == 'f64' ? 'Fixed method (n = 64)' : datum.value == 'f128' ? 'Fixed method (n = 128)' : datum.value == 'var' ? 'Variable method' : datum.value == 'pw' ? 'PW method' : datum.value == 'gmm' ? 'GMM method' : 'Optimal method'",
  "encode": {"symbols": {"update": {"shape": {"signal": "datum.value == 'f8' ? 'M1.17,0A0.5,0.5,0,1,0,2.17,0A0.5,0.5,0,1,0,1.17,0Z' : 'M-3,0H6.33'"}, "fill": {"signal": "datum.value == 'f8' ? '#111111' : 'transparent'"}}}}}}
},
"layer": [
{"transform": [{"filter": "datum.m != 'f8'"}], "mark": {"type": "line", "clip": true, "strokeWidth": 1.7}, "encoding": {"strokeDash": {"field": "m", "type": "nominal", "scale": {"domain": ["f8","f16","f32","f64","f128","var","pw","gmm","opt"], "range": [[1,0],[1.5,1.5],[7,2.5,1.5,2.5],[7,4],[1,0],[1,0],[1,0],[1,0],[1,0]]}}}},
{"transform": [{"filter": "datum.m == 'f8'"}], "mark": {"type": "circle", "clip": true, "size": 6, "opacity": 1}}
]
},
{
"title": "Entropy", "width": 312, "height": 258, "data": {"name": "ent"},
"encoding": {
"x": {"field": "x", "type": "quantitative", "scale": {"domain": [5.6, 108.3], "nice": false, "zero": false}, "axis": {"values": [20,40,60,80,100], "title": null}},
"y": {"field": "y", "type": "quantitative", "scale": {"type": "log", "domain": [0.00193, 0.122], "nice": false}, "axis": {"values": [0.002,0.003,0.004,0.005,0.006,0.007,0.008,0.009,0.01,0.02,0.03,0.04,0.05,0.06,0.07,0.08,0.09,0.1], "title": null, "labelExpr": "datum.value == 1 ? '10⁰' : datum.value == 0.1 ? '10⁻¹' : datum.value == 0.01 ? '10⁻²' : datum.value == 0.001 ? '10⁻³' : datum.value == 0.0001 ? '10⁻⁴' : ''"}},
"color": {"field": "m", "type": "nominal", "scale": {"domain": ["f8","f16","f32","f64","f128","var","pw","gmm","opt"], "range": ["#111111","#111111","#111111","#111111","#111111","#e8305c","#33bb3c","#2a78b0","#c47cf0"]}}
},
"layer": [
{"transform": [{"filter": "datum.m != 'f8'"}], "mark": {"type": "line", "clip": true, "strokeWidth": 1.7}, "encoding": {"strokeDash": {"field": "m", "type": "nominal", "scale": {"domain": ["f8","f16","f32","f64","f128","var","pw","gmm","opt"], "range": [[1,0],[1.5,1.5],[7,2.5,1.5,2.5],[7,4],[1,0],[1,0],[1,0],[1,0],[1,0]]}}}},
{"transform": [{"filter": "datum.m == 'f8'"}], "mark": {"type": "circle", "clip": true, "size": 6, "opacity": 1}}
]
},
{
"title": "Difference Entropy", "width": 312, "height": 258, "data": {"name": "den"},
"encoding": {
"x": {"field": "x", "type": "quantitative", "scale": {"domain": [5.6, 108.3], "nice": false, "zero": false}, "axis": {"values": [20,40,60,80,100], "title": "ROI size"}},
"y": {"field": "y", "type": "quantitative", "scale": {"type": "log", "domain": [0.00158, 0.299], "nice": false}, "axis": {"values": [0.002,0.003,0.004,0.005,0.006,0.007,0.008,0.009,0.01,0.02,0.03,0.04,0.05,0.06,0.07,0.08,0.09,0.1,0.2], "title": null, "labelExpr": "datum.value == 1 ? '10⁰' : datum.value == 0.1 ? '10⁻¹' : datum.value == 0.01 ? '10⁻²' : datum.value == 0.001 ? '10⁻³' : datum.value == 0.0001 ? '10⁻⁴' : ''"}},
"color": {"field": "m", "type": "nominal", "scale": {"domain": ["f8","f16","f32","f64","f128","var","pw","gmm","opt"], "range": ["#111111","#111111","#111111","#111111","#111111","#e8305c","#33bb3c","#2a78b0","#c47cf0"]}}
},
"layer": [
{"transform": [{"filter": "datum.m != 'f8'"}], "mark": {"type": "line", "clip": true, "strokeWidth": 1.7}, "encoding": {"strokeDash": {"field": "m", "type": "nominal", "scale": {"domain": ["f8","f16","f32","f64","f128","var","pw","gmm","opt"], "range": [[1,0],[1.5,1.5],[7,2.5,1.5,2.5],[7,4],[1,0],[1,0],[1,0],[1,0],[1,0]]}}}},
{"transform": [{"filter": "datum.m == 'f8'"}], "mark": {"type": "circle", "clip": true, "size": 6, "opacity": 1}}
]
},
{
"title": "Inverse Difference Moment", "width": 312, "height": 258, "data": {"name": "idm"},
"encoding": {
"x": {"field": "x", "type": "quantitative", "scale": {"domain": [5.6, 108.3], "nice": false, "zero": false}, "axis": {"values": [20,40,60,80,100], "title": "ROI size"}},
"y": {"field": "y", "type": "quantitative", "scale": {"type": "log", "domain": [0.00004, 0.00272], "nice": false}, "axis": {"values": [0.00005,0.00006,0.00007,0.00008,0.00009,0.0001,0.0002,0.0003,0.0004,0.0005,0.0006,0.0007,0.0008,0.0009,0.001,0.002], "title": "Relative RMSE", "labelExpr": "datum.value == 1 ? '10⁰' : datum.value == 0.1 ? '10⁻¹' : datum.value == 0.01 ? '10⁻²' : datum.value == 0.001 ? '10⁻³' : datum.value == 0.0001 ? '10⁻⁴' : ''"}},
"color": {"field": "m", "type": "nominal", "scale": {"domain": ["f8","f16","f32","f64","f128","var","pw","gmm","opt"], "range": ["#111111","#111111","#111111","#111111","#111111","#e8305c","#33bb3c","#2a78b0","#c47cf0"]}}
},
"layer": [
{"transform": [{"filter": "datum.m != 'f8'"}], "mark": {"type": "line", "clip": true, "strokeWidth": 1.7}, "encoding": {"strokeDash": {"field": "m", "type": "nominal", "scale": {"domain": ["f8","f16","f32","f64","f128","var","pw","gmm","opt"], "range": [[1,0],[1.5,1.5],[7,2.5,1.5,2.5],[7,4],[1,0],[1,0],[1,0],[1,0],[1,0]]}}}},
{"transform": [{"filter": "datum.m == 'f8'"}], "mark": {"type": "circle", "clip": true, "size": 6, "opacity": 1}}
]
},
{
"title": "Difference Average", "width": 312, "height": 258, "data": {"name": "dav"},
"encoding": {
"x": {"field": "x", "type": "quantitative", "scale": {"domain": [5.6, 108.3], "nice": false, "zero": false}, "axis": {"values": [20,40,60,80,100], "title": "ROI size"}},
"y": {"field": "y", "type": "quantitative", "scale": {"type": "log", "domain": [0.0019, 2.08], "nice": false}, "axis": {"values": [0.002,0.003,0.004,0.005,0.006,0.007,0.008,0.009,0.01,0.02,0.03,0.04,0.05,0.06,0.07,0.08,0.09,0.1,0.2,0.3,0.4,0.5,0.6,0.7,0.8,0.9,1,2], "title": null, "labelExpr": "datum.value == 1 ? '10⁰' : datum.value == 0.1 ? '10⁻¹' : datum.value == 0.01 ? '10⁻²' : datum.value == 0.001 ? '10⁻³' : datum.value == 0.0001 ? '10⁻⁴' : ''"}},
"color": {"field": "m", "type": "nominal", "scale": {"domain": ["f8","f16","f32","f64","f128","var","pw","gmm","opt"], "range": ["#111111","#111111","#111111","#111111","#111111","#e8305c","#33bb3c","#2a78b0","#c47cf0"]}}
},
"layer": [
{"transform": [{"filter": "datum.m != 'f8'"}], "mark": {"type": "line", "clip": true, "strokeWidth": 1.7}, "encoding": {"strokeDash": {"field": "m", "type": "nominal", "scale": {"domain": ["f8","f16","f32","f64","f128","var","pw","gmm","opt"], "range": [[1,0],[1.5,1.5],[7,2.5,1.5,2.5],[7,4],[1,0],[1,0],[1,0],[1,0],[1,0]]}}}},
{"transform": [{"filter": "datum.m == 'f8'"}], "mark": {"type": "circle", "clip": true, "size": 6, "opacity": 1}}
]
}
],
"resolve": {"scale": {"color": "shared", "strokeDash": "shared"}},
"config": {
"font": "Liberation Serif",
"view": {"stroke": "#8a8a8a", "strokeWidth": 1},
"axis": {"grid": false, "domain": false, "ticks": true, "tickSize": -4, "tickColor": "#aaaaaa", "tickWidth": 0.8, "labelFont": "Liberation Serif", "labelColor": "#333333", "titleFont": "Liberation Serif", "titleFontSize": 18, "titleFontWeight": "normal", "titleColor": "#333333"},
"axisX": {"labelFontSize": 15, "labelPadding": 9, "titlePadding": 3},
"axisY": {"labelFontSize": 15, "labelPadding": 10, "titlePadding": 7},
"title": {"font": "Liberation Serif", "fontSize": 22, "fontWeight": "normal", "color": "#333333", "offset": 6}
}
}
